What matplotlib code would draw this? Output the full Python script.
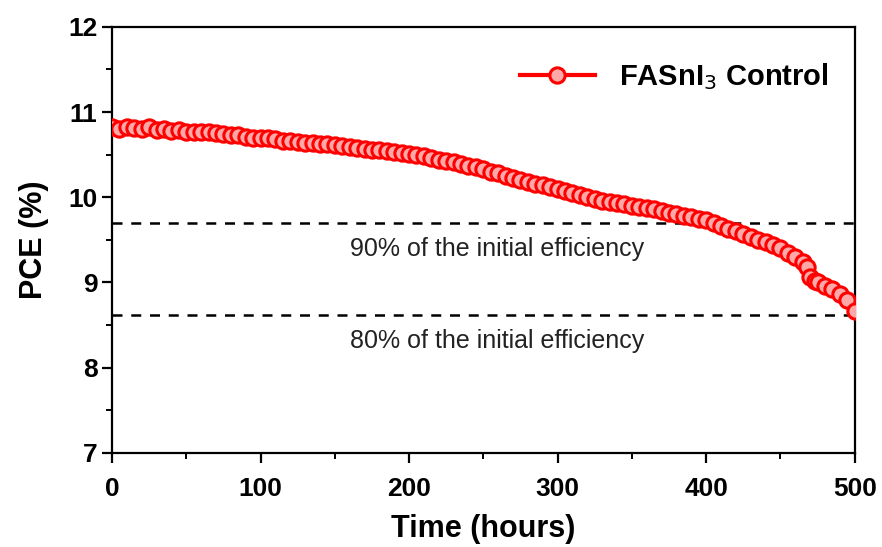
import numpy as np
import matplotlib.pyplot as plt

plt.rcParams['font.family'] = ['Liberation Sans', 'DejaVu Sans']

# PCE stability data
hours = [0, 5, 10, 15, 20, 25, 30, 35, 40, 45,
         50, 55, 60, 65, 70, 75, 80, 85, 90, 95,
         100, 105, 110, 115, 120, 125, 130, 135, 140, 145,
         150, 155, 160, 165, 170, 175, 180, 185, 190, 195,
         200, 205, 210, 215, 220, 225, 230, 235, 240, 245,
         250, 255, 260, 265, 270, 275, 280, 285, 290, 295,
         300, 305, 310, 315, 320, 325, 330, 335, 340, 345,
         350, 355, 360, 365, 370, 375, 380, 385, 390, 395,
         400, 405, 410, 415, 420, 425, 430, 435, 440, 445,
         450, 455, 460, 465, 468, 470, 473, 475, 480, 485,
         490, 495, 500]
pce = [10.82, 10.80, 10.83, 10.81, 10.80, 10.82, 10.79, 10.80, 10.78, 10.79,
       10.77, 10.77, 10.76, 10.76, 10.75, 10.74, 10.73, 10.73, 10.71, 10.70,
       10.69, 10.70, 10.68, 10.66, 10.66, 10.65, 10.64, 10.64, 10.63, 10.62,
       10.61, 10.60, 10.59, 10.58, 10.57, 10.55, 10.55, 10.54, 10.53, 10.52,
       10.51, 10.49, 10.48, 10.46, 10.44, 10.43, 10.41, 10.39, 10.37, 10.35,
       10.33, 10.30, 10.28, 10.25, 10.23, 10.20, 10.18, 10.16, 10.14, 10.12,
       10.10, 10.07, 10.05, 10.03, 10.00, 9.98, 9.96, 9.95, 9.93, 9.92,
       9.90, 9.89, 9.87, 9.86, 9.84, 9.82, 9.80, 9.78, 9.77, 9.75,
       9.73, 9.70, 9.66, 9.63, 9.60, 9.57, 9.53, 9.50, 9.47, 9.44,
       9.40, 9.35, 9.30, 9.24, 9.18, 9.07, 9.02, 9.00, 8.96, 8.92,
       8.87, 8.80, 8.66]

initial = 10.78
ref_levels = [0.9 * initial, 0.8 * initial]
ref_labels = ['90% of the initial efficiency', '80% of the initial efficiency']

fig = plt.figure(figsize=(8.82, 5.47), dpi=100)
ax = fig.add_axes([0.127, 0.172, 0.842, 0.779])

ax.plot(hours, pce, '-', color='red', lw=3, marker='o', ms=11,
        mfc='#ffa8a8', mec='red', mew=2.2, label=r'FASnI$_3$ Control', zorder=3)

for lvl, txt in zip(ref_levels, ref_labels):
    ax.axhline(lvl, color='black', ls=(0, (4, 3.5)), lw=1.8, zorder=2)
    ax.text(259, lvl - 0.31, txt, ha='center', va='center', fontsize=18, color='#222222')

ax.set_xlim(0, 500)
ax.set_ylim(7, 12)
ax.set_xticks(np.arange(0, 501, 100))
ax.set_xticks(np.arange(0, 501, 50), minor=True)
ax.set_yticks(np.arange(7, 13, 1))
ax.set_yticks(np.arange(7, 12.01, 0.5), minor=True)

ax.tick_params(which='major', direction='out', length=7, width=1.6, labelsize=19)
ax.tick_params(which='minor', direction='out', length=4, width=1.4)
ax.tick_params(axis='x', which='major', pad=10)
for lab in ax.get_xticklabels() + ax.get_yticklabels():
    lab.set_fontweight('bold')
for sp in ax.spines.values():
    sp.set_linewidth(1.6)

ax.set_xlabel('Time (hours)', fontsize=22, fontweight='bold', labelpad=10)
ax.set_ylabel('PCE (%)', fontsize=22, fontweight='bold', labelpad=14)

leg = ax.legend(loc='upper right', frameon=False, handlelength=2.6,
                prop={'weight': 'bold', 'size': 21}, bbox_to_anchor=(1.0, 0.98))

fig.savefig('out.png', dpi=100)
